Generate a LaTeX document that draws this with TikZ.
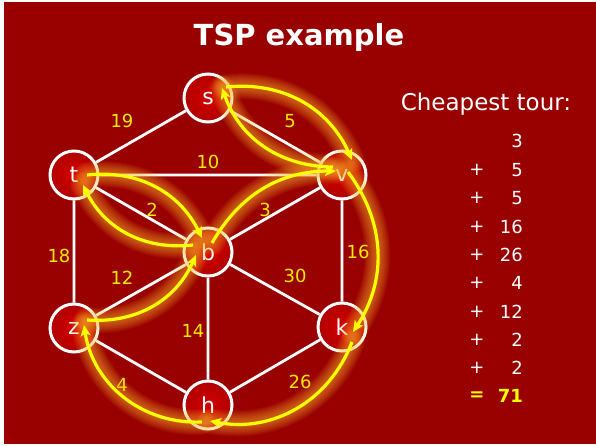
\documentclass[tikz,border=0pt]{standalone}
\usepackage{fontspec}
\setmainfont{DejaVu Sans}
\usetikzlibrary{arrows.meta,calc}

\definecolor{bgred}{HTML}{990000}
\definecolor{nodein}{HTML}{D40000}
\definecolor{nodeout}{HTML}{B00000}
\definecolor{tourY}{HTML}{FFFF00}
\definecolor{glowC}{HTML}{FFB830}
\definecolor{lblY}{HTML}{F8EC00}

\pgfdeclarelayer{backdrop}
\pgfdeclarelayer{roads}
\pgfsetlayers{backdrop,roads,main}

\begin{document}
\begin{tikzpicture}[x=1pt,y=-1pt,
  city/.style={circle, draw=white, line width=3pt, minimum size=48pt, inner sep=0pt,
    inner color=nodein, outer color=nodeout, text=white,
    font=\fontsize{22}{22}\selectfont},
  road/.style={draw=white, line width=2.8pt},
  cost/.style={text=lblY, font=\fontsize{18}{18}\selectfont, inner sep=0pt},
  tour/.style={draw=tourY, line width=3.2pt,
    -{Stealth[length=11pt,width=10pt,inset=2.5pt]}},
  halo/.style={draw=glowC, line cap=round},
  sumtxt/.style={text=white, font=\fontsize{18}{18}\selectfont, inner sep=0pt},
]
% canvas and frame
\useasboundingbox (0,0) rectangle (596,446);
\begin{pgfonlayer}{backdrop}
\fill[white] (0,0) rectangle (596,446);
\fill[bgred] (4,2) rectangle (596,444);
\end{pgfonlayer}

% title
\node[text=white, font=\bfseries\fontsize{29}{29}\selectfont] (title) at (299,38) {TSP example};

% cities
\node[city] (s) at (208,98)  {s};
\node[city] (t) at (74,175)  {t};
\node[city] (v) at (342,175) {v};
\node[city] (b) at (208,252) {b};
\node[city] (z) at (74,328)  {z};
\node[city] (k) at (342,327) {k};
\node[city] (h) at (208,405) {h};

% roads, kept behind the cities
\begin{pgfonlayer}{roads}
\path[road] (s) -- (t) (s) -- (v) (t) -- (v) (t) -- (b) (v) -- (b)
  (t) -- (z) (v) -- (k) (b) -- (z) (b) -- (k) (b) -- (h) (z) -- (h) (k) -- (h);
\end{pgfonlayer}

% road costs
\node[cost] (c19) at (122,121) {19};
\node[cost] (c5)  at (290,121) {5};
\node[cost] (c10) at (208,162) {10};
\node[cost] (c2)  at (152,210) {2};
\node[cost] (c3)  at (265,210) {3};
\node[cost] (c18) at (59,256)  {18};
\node[cost] (c16) at (358,252) {16};
\node[cost] (c12) at (122,278) {12};
\node[cost] (c30) at (295,276) {30};
\node[cost] (c14) at (193,331) {14};
\node[cost] (c4)  at (122,385) {4};
\node[cost] (c26) at (300,382) {26};

% end points of the tour legs
\coordinate (bv0) at ($(b.center)+(4,-9)$);
\coordinate (bv1) at ($(v.center)+(-6,-4)$);
\coordinate (vs0) at ($(v.center)+(-9,-8)$);
\coordinate (vs1) at ($(s.center)+(14,-10)$);
\coordinate (sv0) at ($(s.center)+(18,-11)$);
\coordinate (sv1) at ($(v.center)+(10,-15)$);
\coordinate (vk0) at ($(v.center)+(6,-3)$);
\coordinate (vk1) at ($(k.center)+(11,5)$);
\coordinate (kh0) at ($(k.center)+(10,15)$);
\coordinate (kh1) at ($(h.center)+(2,16)$);
\coordinate (hz0) at ($(h.center)+(-6,17)$);
\coordinate (hz1) at ($(z.center)+(10,-3)$);
\coordinate (zb0) at ($(z.center)+(13,-8)$);
\coordinate (zb1) at ($(b.center)+(-12,3)$);
\coordinate (bt0) at ($(b.center)+(-15,-7)$);
\coordinate (bt1) at ($(t.center)+(9,10)$);
\coordinate (tb0) at ($(t.center)+(13,0)$);
\coordinate (tb1) at ($(b.center)+(-6,-14)$);

% soft glow under the tour
\foreach \p/\q/\ang in {bv0/bv1/30, vs0/vs1/35, sv0/sv1/36, vk0/vk1/35,
    kh0/kh1/40, hz0/hz1/42, zb0/zb1/-35, bt0/bt1/35, tb0/tb1/35}{
  \foreach \w in {26,24,...,6}{
    \draw[halo, line width=\w pt, draw opacity=0.06] (\p) to[bend left=\ang] (\q);
  }
}
% the tour itself
\foreach \p/\q/\ang in {bv0/bv1/30, vs0/vs1/35, sv0/sv1/36, vk0/vk1/35,
    kh0/kh1/40, hz0/hz1/42, zb0/zb1/-35, bt0/bt1/35, tb0/tb1/35}{
  \draw[tour] (\p) to[bend left=\ang] (\q);
}

% cost of the cheapest tour
\node[text=white, font=\fontsize{23}{23}\selectfont] (head) at (486,104) {Cheapest tour:};
\node[sumtxt, anchor=east] (n1) at (523,141) {3};
\foreach \y/\n [count=\i from 2] in {170/5, 198/5, 226.5/16, 255/26, 283/4, 311.5/12, 340/2, 368/2}{
  \node[sumtxt] (p\i) at (477,\y) {+};
  \node[sumtxt, anchor=east] (n\i) at (523,\y) {\n};
}
\node[sumtxt, text=tourY, font=\bfseries\fontsize{18}{18}\selectfont] (eq) at (477,396) {=};
\node[sumtxt, text=tourY, font=\bfseries\fontsize{18}{18}\selectfont, anchor=east] (total) at (523,396) {71};
\end{tikzpicture}
\end{document}
